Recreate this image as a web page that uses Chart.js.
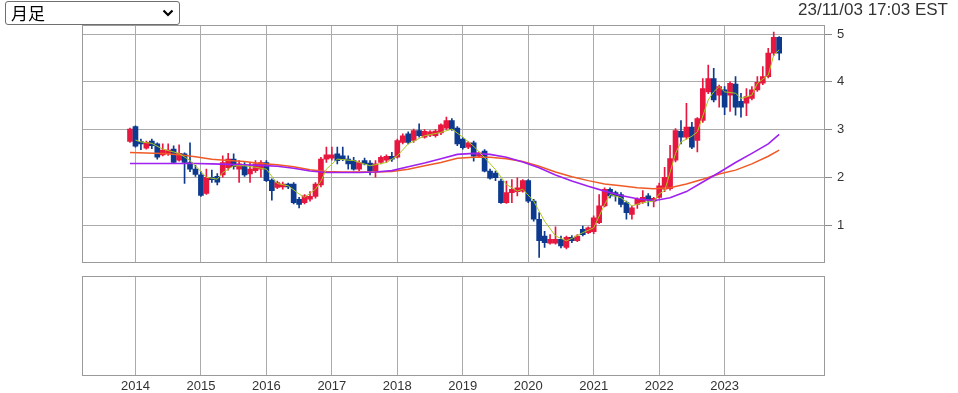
<!DOCTYPE html>
<html><head><meta charset="utf-8">
<script src="https://cdn.jsdelivr.net/npm/chart.js@4"></script>
<style>
html,body{margin:0;padding:0;background:#fff;width:958px;height:393px;overflow:hidden;position:relative;font-family:"Liberation Sans",Arial,sans-serif;}
#selbox{position:absolute;left:5px;top:1px;width:175px;height:24px;z-index:3;}
#sel{position:absolute;left:0;top:0;width:175px;height:24px;box-sizing:border-box;font-size:17px;line-height:22px;font-family:"Noto Sans CJK JP",sans-serif;background:#fff;color:#000;border:1px solid #6f6f6f;border-radius:3px;padding:0 0 0 5px;-webkit-appearance:none;appearance:none;margin:0;}
#chev{position:absolute;right:6px;top:8px;width:12px;height:8px;pointer-events:none;}
#stamp{position:absolute;right:10px;top:0px;font-size:17px;color:#333;z-index:3;}
#c1{position:absolute;left:0;top:0;}
#c2{position:absolute;left:0;top:270px;}
</style></head>
<body>
<div id="selbox"><select id="sel"><option>月足</option></select>
<svg id="chev" viewBox="0 0 12 8"><polyline points="1.5,1.5 6,6 10.5,1.5" fill="none" stroke="#000" stroke-width="2.2"/></svg></div>
<div id="stamp">23/11/03 17:03 EST</div>
<canvas id="c1" width="958" height="276"></canvas>
<canvas id="c2" width="958" height="123"></canvas>
<script>
// Monthly candles, Dec 2013 .. Nov 2023 (index 0 = 2013-12)
const openP  = [2.75,3.06,2.75,2.61,2.76,2.70,2.47,2.50,2.59,2.36,2.49,2.31,2.17,2.05,1.66,2.00,2.02,2.05,2.20,2.38,2.17,2.24,2.07,2.14,2.17,2.31,1.94,1.79,1.80,1.86,1.86,1.54,1.47,1.54,1.60,1.84,2.38,2.40,2.49,2.45,2.38,2.35,2.17,2.35,2.30,2.14,2.31,2.36,2.44,2.42,2.73,2.91,2.77,2.98,2.84,2.88,2.87,2.93,3.03,3.19,3.03,2.80,2.63,2.72,2.44,2.55,2.13,2.09,1.92,1.47,1.68,1.70,1.71,1.93,1.50,1.12,0.77,0.62,0.62,0.70,0.53,0.74,0.67,0.91,0.84,0.86,1.05,1.40,1.75,1.68,1.64,1.47,1.22,1.43,1.48,1.61,1.50,1.58,1.75,1.76,2.36,2.96,2.84,3.05,2.77,3.19,3.79,4.07,3.72,3.83,3.72,3.95,3.59,3.55,3.65,3.83,3.97,4.11,4.60,4.93];
const highP  = [3.03,3.08,2.80,2.76,2.80,2.72,2.70,2.70,2.66,2.68,2.51,2.72,2.25,2.12,2.17,2.15,2.08,2.45,2.50,2.49,2.35,2.31,2.31,2.35,2.35,2.35,1.97,1.92,1.90,1.88,1.89,1.58,1.64,1.70,1.89,2.42,2.63,2.63,2.63,2.63,2.45,2.42,2.35,2.40,2.35,2.35,2.45,2.47,2.52,2.80,2.91,2.95,3.01,3.12,3.00,2.98,3.00,3.12,3.26,3.23,3.06,2.83,2.75,2.76,2.53,2.58,2.17,2.13,1.96,1.92,1.95,1.99,1.95,1.95,1.54,1.26,0.87,0.80,0.96,0.77,0.77,0.78,0.80,0.98,0.96,1.19,1.64,1.78,1.78,1.71,1.68,1.50,1.40,1.57,1.72,1.66,1.58,1.88,2.21,2.67,3.02,3.19,3.55,3.15,3.25,4.07,4.35,4.28,3.93,3.90,4.00,4.11,3.76,3.86,3.90,4.11,4.32,4.70,5.04,4.95];
const lowP   = [2.73,2.63,2.58,2.59,2.60,2.38,2.45,2.46,2.29,2.34,1.87,2.12,2.02,1.60,1.64,1.89,1.84,2.00,2.15,2.17,1.89,2.02,1.89,2.10,2.00,1.91,1.52,1.76,1.75,1.76,1.44,1.36,1.44,1.50,1.56,1.80,2.31,2.36,2.28,2.35,2.17,2.15,2.14,2.26,2.05,2.00,2.28,2.31,2.33,2.40,2.70,2.70,2.73,2.84,2.82,2.85,2.84,2.89,3.00,2.98,2.66,2.59,2.60,2.34,2.42,2.11,1.96,1.93,1.45,1.45,1.47,1.61,1.69,1.47,1.08,0.32,0.53,0.60,0.60,0.52,0.50,0.63,0.65,0.77,0.82,0.82,1.03,1.38,1.57,1.50,1.38,1.12,1.12,1.35,1.45,1.40,1.38,1.56,1.70,1.73,2.32,2.70,2.80,2.60,2.53,3.15,3.75,3.58,3.47,3.31,3.38,3.30,3.26,3.29,3.62,3.80,3.94,4.08,4.55,4.46];
const closeP = [3.01,2.65,2.70,2.73,2.66,2.42,2.57,2.57,2.31,2.50,2.31,2.17,2.06,1.62,2.00,1.95,1.90,2.31,2.38,2.22,2.28,2.05,2.17,2.28,2.31,1.93,1.72,1.89,1.86,1.80,1.47,1.43,1.61,1.60,1.86,2.38,2.47,2.47,2.35,2.38,2.28,2.17,2.31,2.28,2.14,2.28,2.42,2.44,2.38,2.77,2.87,2.73,2.98,2.87,2.96,2.95,2.97,3.10,3.19,3.00,2.70,2.62,2.72,2.44,2.51,2.13,1.98,1.99,1.47,1.68,1.75,1.78,1.93,1.50,1.12,0.67,0.63,0.70,0.70,0.56,0.74,0.67,0.77,0.80,0.94,1.15,1.40,1.75,1.61,1.61,1.43,1.26,1.36,1.54,1.58,1.52,1.56,1.82,2.00,2.39,2.98,2.84,3.05,2.63,3.23,3.86,4.07,3.62,3.90,3.47,3.97,3.47,3.47,3.69,3.83,3.99,4.11,4.60,4.93,4.60];

// Short moving average (yellow-green): month index / value
const maShortIdx = [1,2,4,6,9,11,12,14,16,17,19,21,23,25,27,29,31,32,34,35,36,38,41,44,47,49,51,54,57,59,61,63,65,67,69,71,72,74,76,78,80,81,83,85,87,88,90,92,94,96,97,98,99,100,101,103,104,106,107,108,109,111,112,114,115,117,118,119];
const maShortVal = [2.78,2.74,2.71,2.59,2.50,2.35,2.24,2.00,1.96,2.10,2.24,2.24,2.21,2.17,1.87,1.82,1.65,1.58,1.75,1.92,2.17,2.38,2.35,2.24,2.31,2.45,2.70,2.87,2.94,3.01,2.84,2.65,2.41,2.16,1.85,1.71,1.75,1.50,1.08,0.77,0.67,0.72,0.84,0.94,1.43,1.64,1.57,1.40,1.47,1.50,1.65,1.72,2.10,2.50,2.74,2.86,2.95,3.62,3.79,3.90,3.79,3.76,3.65,3.72,3.97,4.14,4.56,4.67];
// Mid (purple) and long (orange) moving averages, read every 3 months
const maIdx   = [0,3,6,9,12,15,18,21,24,27,30,33,36,39,42,45,48,51,54,57,60,63,66,69,72,75,78,81,84,87,90,93,96,99,102,105,108,111,114,117,119];
const maMid   = [2.29,2.29,2.29,2.29,2.29,2.28,2.27,2.26,2.25,2.23,2.19,2.13,2.10,2.10,2.10,2.11,2.14,2.22,2.30,2.39,2.48,2.50,2.48,2.42,2.32,2.20,2.05,1.92,1.81,1.71,1.62,1.55,1.51,1.57,1.70,1.90,2.10,2.31,2.50,2.70,2.90];
const maLong  = [2.52,2.51,2.50,2.47,2.43,2.38,2.35,2.33,2.29,2.26,2.22,2.16,2.12,2.11,2.11,2.11,2.12,2.17,2.24,2.31,2.40,2.42,2.42,2.39,2.33,2.23,2.11,2.01,1.93,1.86,1.82,1.78,1.76,1.78,1.86,1.96,2.07,2.15,2.28,2.44,2.57];

const yearIdx    = [1,13,25,37,49,61,73,85,97,109];
const yearLabels = ['2014','2015','2016','2017','2018','2019','2020','2021','2022','2023'];
const priceTicks = [1,2,3,4,5];

const RED='#e8173f', BLUE='#0d3a8e', GRID='#ababab', FRAME='#9a9a9a';
const XMIN=-8.8, XMAX=127.4;
const candleColors = openP.map((o,i)=> closeP[i] >= o ? RED : BLUE);

const frame = {id:'frame', afterDraw(chart){
  const {ctx, chartArea:a} = chart;
  ctx.save(); ctx.strokeStyle=FRAME; ctx.lineWidth=1;
  ctx.strokeRect(Math.round(a.left)+0.5, Math.round(a.top)+0.5, Math.round(a.right-a.left)-1, Math.round(a.bottom-a.top)-1);
  ctx.restore();
}};
const font = {family:'"Liberation Sans", Arial, sans-serif', size:13};

new Chart(document.getElementById('c1'), {
  type:'bar',
  data:{datasets:[
    {type:'line', data:maShortIdx.map((x,i)=>({x, y:maShortVal[i]})), borderColor:'#a8c81e', borderWidth:1, pointRadius:0, order:0},
    {type:'line', data:maIdx.map((x,i)=>({x, y:maMid[i]})), borderColor:'#a020f0', borderWidth:1.6, pointRadius:0, order:0},
    {type:'line', data:maIdx.map((x,i)=>({x, y:maLong[i]})), borderColor:'#ef5a26', borderWidth:1.5, pointRadius:0, order:0},
    {type:'bar', data:openP.map((o,i)=>({x:i, y:[o, closeP[i]]})), backgroundColor:candleColors, borderWidth:0, barThickness:5, grouped:false, order:1},
    {type:'bar', data:lowP.map((l,i)=>({x:i, y:[l, highP[i]]})), backgroundColor:candleColors, borderWidth:0, barThickness:1, grouped:false, order:2}
  ]},
  options:{
    responsive:false, animation:false,
    layout:{padding:{left:82, top:25, right:0, bottom:0}},
    plugins:{legend:{display:false}, tooltip:{enabled:false}},
    scales:{
      x:{type:'linear', min:XMIN, max:XMAX, offset:false,
         afterBuildTicks:s=>{s.ticks=yearIdx.map(v=>({value:v}));},
         afterFit:s=>{s.height=8;},
         grid:{color:GRID, drawTicks:false, offset:false}, border:{display:false}, ticks:{display:false}},
      y:{position:'right', min:0.2, max:5.19,
         afterBuildTicks:s=>{s.ticks=priceTicks.map(v=>({value:v}));},
         afterFit:s=>{s.width=133;},
         grid:{color:GRID, tickLength:7, tickColor:'#8a8a8a'}, border:{display:false},
         ticks:{padding:5, color:'#333', font}}
    }
  },
  plugins:[frame]
});

new Chart(document.getElementById('c2'), {
  type:'line',
  data:{datasets:[{data:[], pointRadius:0}]},
  options:{
    responsive:false, animation:false,
    layout:{padding:{left:82, top:6, right:133, bottom:0}},
    plugins:{legend:{display:false}, tooltip:{enabled:false}},
    scales:{
      x:{type:'linear', min:XMIN, max:XMAX, offset:false,
         afterBuildTicks:s=>{s.ticks=yearIdx.map(v=>({value:v}));},
         afterFit:s=>{s.height=17;},
         grid:{color:GRID, drawTicks:false, offset:false}, border:{display:false},
         ticks:{padding:3, color:'#333', font, maxRotation:0, autoSkip:false, callback:(v,i)=>yearLabels[i]}},
      y:{display:false, min:0, max:1}
    }
  },
  plugins:[frame]
});
</script>
</body></html>
